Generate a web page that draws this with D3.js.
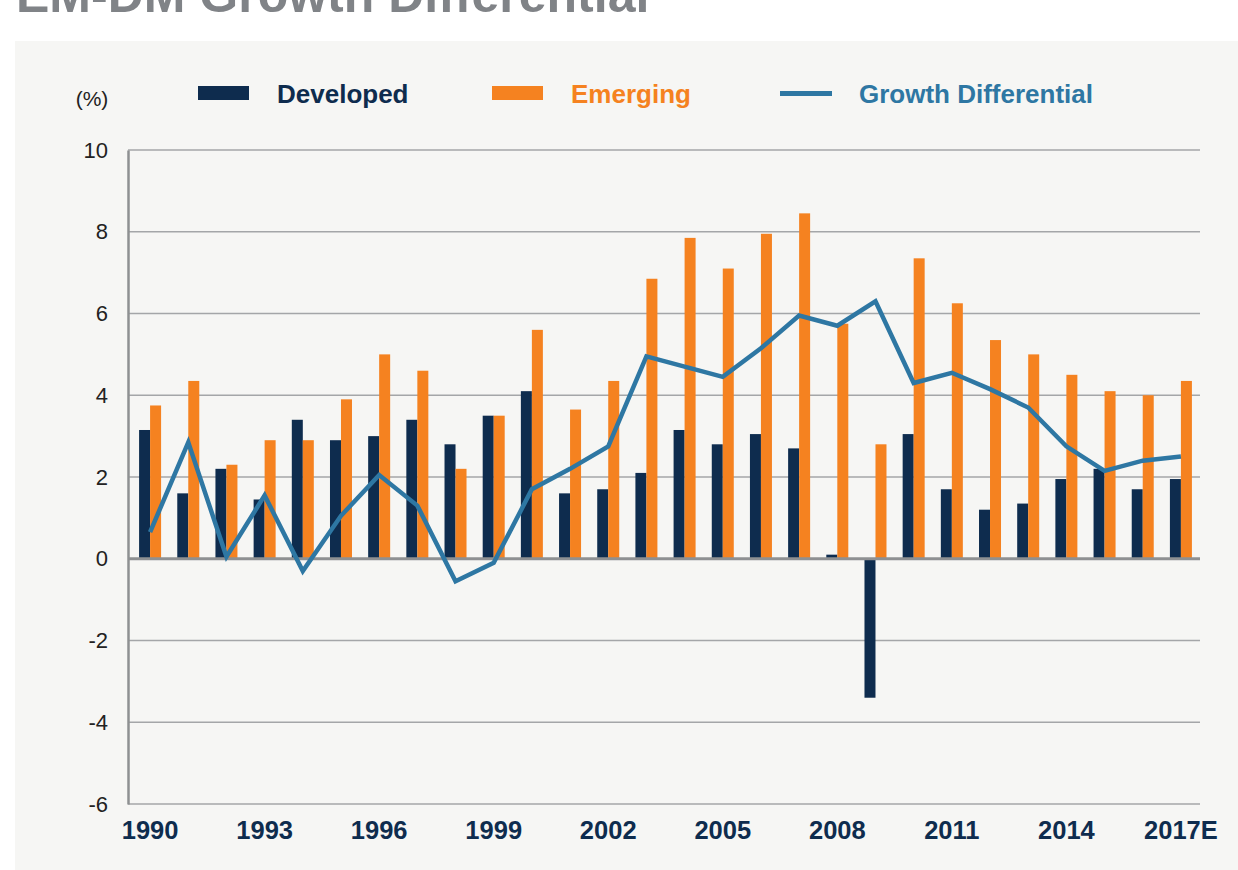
<!DOCTYPE html>
<html>
<head>
<meta charset="utf-8">
<script src="https://cdn.jsdelivr.net/npm/d3@7"></script>
<style>
    body { margin: 0; background: #ffffff; }
    svg text { font-family: "Liberation Sans", Arial, Helvetica, sans-serif; }
</style>
</head>
<body>
<div id="chart"></div>
<script>
const years = ['1990', '1991', '1992', '1993', '1994', '1995', '1996', '1997', '1998', '1999',
    '2000', '2001', '2002', '2003', '2004', '2005', '2006', '2007', '2008', '2009',
    '2010', '2011', '2012', '2013', '2014', '2015', '2016', '2017E'];

const developed = [3.15, 1.6, 2.2, 1.45, 3.4, 2.9, 3.0, 3.4, 2.8, 3.5,
    4.1, 1.6, 1.7, 2.1, 3.15, 2.8, 3.05, 2.7, 0.1, -3.4,
    3.05, 1.7, 1.2, 1.35, 1.95, 2.2, 1.7, 1.95];

const emerging = [3.75, 4.35, 2.3, 2.9, 2.9, 3.9, 5.0, 4.6, 2.2, 3.5,
    5.6, 3.65, 4.35, 6.85, 7.85, 7.1, 7.95, 8.45, 5.75, 2.8,
    7.35, 6.25, 5.35, 5.0, 4.5, 4.1, 4.0, 4.35];

const differential = [0.65, 2.85, 0.05, 1.55, -0.3, 1.05, 2.05, 1.3, -0.55, -0.1,
    1.7, 2.2, 2.75, 4.95, 4.7, 4.45, 5.15, 5.95, 5.7, 6.3,
    4.3, 4.55, 4.15, 3.7, 2.75, 2.15, 2.4, 2.5];

const yTicks = [-6, -4, -2, 0, 2, 4, 6, 8, 10];
const xTicks = ['1990', '1993', '1996', '1999', '2002', '2005', '2008', '2011', '2014', '2017E'];

const legendItems = [
    { name: 'Developed', type: 'bar', color: '#0e2c4e', x: 198 },
    { name: 'Emerging', type: 'bar', color: '#f58220', x: 492 },
    { name: 'Growth Differential', type: 'line', color: '#2e77a3', x: 780 }
];

const size = { width: 1238, height: 870 };
const plot = { left: 128, right: 1200, top: 150, bottom: 804, bandStart: 131 };
const barWidth = 11;

const svg = d3.select('#chart')
    .append('svg')
    .attr('width', size.width)
    .attr('height', size.height);

// panel + title (title is clipped at the top, as in the original)
svg.append('rect')
    .attr('x', 15).attr('y', 41)
    .attr('width', size.width - 15).attr('height', size.height - 41)
    .attr('fill', '#f6f6f4');

svg.append('text')
    .attr('x', 16).attr('y', 12)
    .attr('font-size', 50).attr('font-weight', 'bold')
    .attr('fill', '#808387')
    .text('EM-DM Growth Differential');

const x = d3.scaleBand().domain(years).range([plot.bandStart, plot.right]);
const y = d3.scaleLinear().domain([-6, 10]).range([plot.bottom, plot.top]);
const cx = d => x(d) + x.bandwidth() / 2;

// gridlines
svg.append('g')
    .selectAll('line')
    .data(yTicks.filter(t => t !== 0))
    .enter()
    .append('line')
        .attr('x1', plot.left).attr('x2', plot.right)
        .attr('y1', d => y(d)).attr('y2', d => y(d))
        .attr('stroke', '#a4a6a8')
        .attr('stroke-width', 1.5);

// y axis
const yAxis = d3.axisLeft(y).tickValues(yTicks).tickSize(0).tickPadding(20).tickFormat(d => String(d));
const gy = svg.append('g')
    .attr('transform', `translate(${plot.left}, 0)`)
    .call(yAxis);
gy.select('.domain').attr('stroke', '#8e9092').attr('stroke-width', 2.5);
gy.selectAll('text')
    .attr('font-size', 22)
    .attr('fill', '#222222')
    .attr('font-family', '"Liberation Sans", Arial, sans-serif');

svg.append('text')
    .attr('x', 92).attr('y', 106)
    .attr('text-anchor', 'middle')
    .attr('font-size', 21)
    .attr('fill', '#222222')
    .text('(%)');

// bars
svg.append('g')
    .selectAll('rect')
    .data(years)
    .enter()
    .append('rect')
        .attr('x', d => cx(d) - barWidth)
        .attr('width', barWidth)
        .attr('y', (d, i) => y(Math.max(0, developed[i])))
        .attr('height', (d, i) => Math.abs(y(developed[i]) - y(0)))
        .attr('fill', legendItems[0].color);

svg.append('g')
    .selectAll('rect')
    .data(years)
    .enter()
    .append('rect')
        .attr('x', d => cx(d))
        .attr('width', barWidth)
        .attr('y', (d, i) => y(Math.max(0, emerging[i])))
        .attr('height', (d, i) => Math.abs(y(emerging[i]) - y(0)))
        .attr('fill', legendItems[1].color);

// zero line
svg.append('line')
    .attr('x1', plot.left).attr('x2', plot.right)
    .attr('y1', y(0)).attr('y2', y(0))
    .attr('stroke', '#8e9092')
    .attr('stroke-width', 3);

// growth differential line
const line = d3.line()
    .x((d, i) => cx(years[i]))
    .y(d => y(d));

svg.append('path')
    .datum(differential)
    .attr('d', line)
    .attr('fill', 'none')
    .attr('stroke', legendItems[2].color)
    .attr('stroke-width', 4.5)
    .attr('stroke-linejoin', 'miter');

// x axis labels
const xAxis = d3.axisBottom(x).tickValues(xTicks).tickSize(0);
const gx = svg.append('g')
    .attr('transform', `translate(0, ${plot.bottom})`)
    .call(xAxis);
gx.select('.domain').remove();
gx.selectAll('text')
    .attr('y', 35).attr('dy', 0)
    .attr('font-size', 25.5)
    .attr('font-weight', 'bold')
    .attr('fill', '#0e2c4e')
    .attr('font-family', '"Liberation Sans", Arial, sans-serif');

// legend
const legend = svg.append('g');
legendItems.forEach(item => {
    if (item.type === 'bar') {
        legend.append('rect')
            .attr('x', item.x).attr('y', 86)
            .attr('width', 51).attr('height', 14)
            .attr('fill', item.color);
    } else {
        legend.append('line')
            .attr('x1', item.x).attr('x2', item.x + 52)
            .attr('y1', 93.5).attr('y2', 93.5)
            .attr('stroke', item.color)
            .attr('stroke-width', 5);
    }
    legend.append('text')
        .attr('x', item.x + 79).attr('y', 103)
        .attr('font-size', 26)
        .attr('font-weight', 'bold')
        .attr('fill', item.color)
        .text(item.name);
});
</script>
</body>
</html>
